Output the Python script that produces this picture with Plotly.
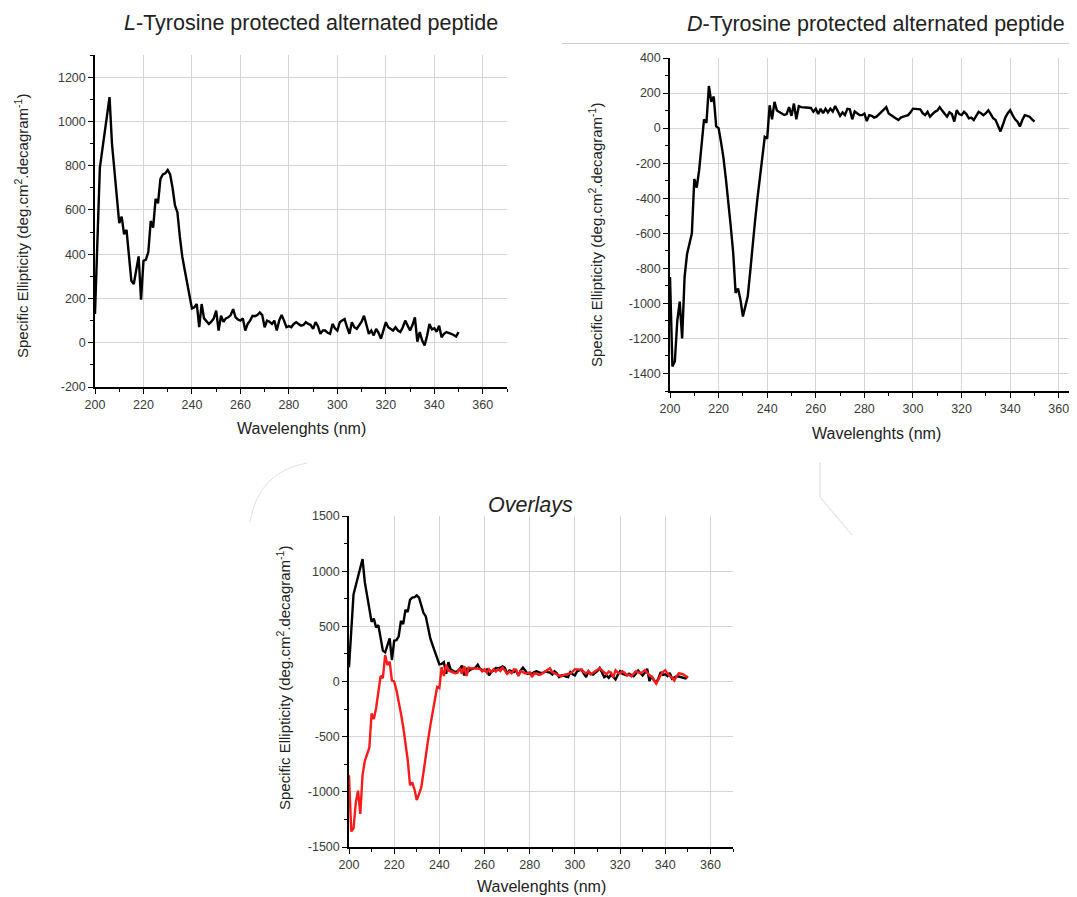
import plotly.graph_objects as go

# The page body keeps an 8px margin, so the figure is drawn 8px smaller and
# every reference pixel position is shifted by that offset.
PAGE_W, PAGE_H = 1077, 897
OFF = 8
W, H = PAGE_W - OFF, PAGE_H - OFF

wavelengths = list(range(200, 351))

l_tyrosine = [
    130, 500, 790, 870, 950, 1020, 1110, 900, 770, 650,
    540, 570, 490, 510, 400, 280, 265, 330, 390, 195,
    370, 375, 410, 550, 520, 650, 630, 740, 760, 765,
    780, 760, 700, 620, 590, 480, 390, 330, 270, 210,
    155, 160, 175, 70, 175, 110, 95, 85, 95, 110,
    145, 55, 122, 95, 110, 115, 125, 152, 115, 105,
    100, 110, 55, 85, 100, 122, 120, 125, 137, 125,
    70, 100, 95, 85, 100, 55, 100, 125, 100, 70,
    75, 70, 85, 93, 85, 77, 80, 93, 85, 80,
    63, 93, 75, 40, 55, 55, 45, 40, 85, 65,
    55, 93, 100, 107, 70, 40, 93, 70, 63, 77,
    95, 122, 80, 40, 55, 33, 63, 45, 18, 60,
    93, 70, 63, 55, 70, 55, 48, 70, 100, 75,
    55, 80, 115, 5, 48, 10, -12, 30, 85, 60,
    65, 50, 77, 25, 40, 48, 45, 40, 35, 28,
    48,
]

d_tyrosine = [
    -850, -1360, -1330, -1100, -990, -1200, -850, -720, -660, -600,
    -290, -340, -240, -90, 50, 30, 240, 150, 180, 10,
    0, -80, -170, -290, -410, -560, -710, -940, -915, -980,
    -1075, -1020, -960, -820, -650, -530, -400, -290, -180, -50,
    -60, 130, 50, 150, 100, 90, 85, 75, 80, 120,
    70, 140, 50, 125, 120, 120, 118, 116, 115, 93,
    110, 80, 110, 85, 110, 90, 111, 95, 126, 100,
    70, 90, 75, 110, 107, 50, 95, 85, 75, 74,
    83, 40, 74, 70, 60, 65, 80, 93, 110, 120,
    83, 75, 65, 55, 46, 60, 65, 70, 74, 90,
    111, 110, 110, 107, 85, 74, 93, 65, 80, 93,
    100, 120, 100, 80, 65, 90, 80, 37, 102, 80,
    74, 93, 80, 56, 60, 46, 70, 93, 85, 74,
    85, 102, 80, 56, 46, 10, -19, 19, 60, 85,
    102, 74, 50, 37, 9, 46, 74, 70, 65, 50,
    37,
]

x_ticks = [200, 220, 240, 260, 280, 300, 320, 340, 360]
y_ticks_l = [-200, 0, 200, 400, 600, 800, 1000, 1200]
y_ticks_d = [-1400, -1200, -1000, -800, -600, -400, -200, 0, 200, 400]
y_ticks_o = [-1500, -1000, -500, 0, 500, 1000, 1500]

FONT = "Arial, Liberation Sans, sans-serif"
TICKFONT = dict(family=FONT, size=12.5, color="#3a3a3a")
GRID = "#d4d4d4"


def px_x(p):
    return min(max((p - OFF) / W, 0.0), 1.0)


def px_y(p):
    return min(max(1 - (p - OFF) / H, 0.0), 1.0)


def axis(domain, rng, ticks, minor_dtick, anchor, tick0):
    return dict(
        domain=domain, range=rng, anchor=anchor, automargin=False,
        tickmode="array", tickvals=ticks, ticktext=[str(t) for t in ticks],
        showline=True, linecolor="black", linewidth=1.5, mirror=False,
        ticks="outside", ticklen=5, tickwidth=1.3, tickcolor="black",
        showgrid=True, gridcolor=GRID, gridwidth=1,
        zeroline=False, tickfont=TICKFONT,
        minor=dict(dtick=minor_dtick, tick0=tick0, ticks="outside", ticklen=3,
                   tickwidth=1.1, tickcolor="black", showgrid=False),
        fixedrange=True,
    )


fig = go.Figure()

LW = 2.4
fig.add_trace(go.Scatter(x=wavelengths, y=l_tyrosine, mode="lines",
                         line=dict(color="black", width=LW),
                         xaxis="x", yaxis="y", showlegend=False))
fig.add_trace(go.Scatter(x=wavelengths, y=d_tyrosine, mode="lines",
                         line=dict(color="black", width=LW),
                         xaxis="x2", yaxis="y2", showlegend=False))
fig.add_trace(go.Scatter(x=wavelengths, y=l_tyrosine, mode="lines",
                         line=dict(color="black", width=LW),
                         xaxis="x3", yaxis="y3", showlegend=False))
fig.add_trace(go.Scatter(x=wavelengths, y=d_tyrosine, mode="lines",
                         line=dict(color="#ff1a1a", width=LW),
                         xaxis="x3", yaxis="y3", showlegend=False))

# Chart 1 (top-left)
c1_x = [px_x(95), px_x(507)]
c1_y = [px_y(387), px_y(55)]
# Chart 2 (top-right)
c2_x = [px_x(670), 1.0]
c2_y = [px_y(391), px_y(58)]
# Chart 3 (bottom, overlays)
c3_x = [px_x(349), px_x(733)]
c3_y = [px_y(847), px_y(516)]

layout = dict(
    width=W, height=H, template="none",
    margin=dict(l=0, r=0, t=0, b=0, pad=0),
    paper_bgcolor="white", plot_bgcolor="white",
    xaxis=axis(c1_x, [200, 370], x_ticks, 10, "y", 200),
    yaxis=axis(c1_y, [-200, 1300], y_ticks_l, 100, "x", -200),
    xaxis2=axis(c2_x, [200, 367.5], x_ticks, 10, "y2", 200),
    yaxis2=axis(c2_y, [-1500, 400], y_ticks_d, 100, "x2", -1500),
    xaxis3=axis(c3_x, [200, 370], x_ticks, 10, "y3", 200),
    yaxis3=axis(c3_y, [-1500, 1500], y_ticks_o, 250, "x3", -1500),
)
fig.update_layout(**layout)

ytitle = "Specific Ellipticity (deg.cm<sup>2</sup>.decagram<sup>-1</sup>)"
xtitle = "Wavelenghts (nm)"
YTFONT = dict(family=FONT, size=15, color="#222")
XTFONT = dict(family=FONT, size=16, color="#222")
HEADFONT = dict(family=FONT, size=21.5, color="#222")

annotations = [
    # chart titles
    dict(x=px_x(311), y=px_y(23), text="<i>L</i>-Tyrosine protected alternated peptide",
         font=HEADFONT),
    dict(x=px_x(876), y=px_y(24), text="<i>D</i>-Tyrosine protected alternated peptide",
         font=HEADFONT),
    dict(x=px_x(530), y=px_y(505), text="<i>Overlays</i>", font=HEADFONT),
    # x titles
    dict(x=px_x(301), y=px_y(428), text=xtitle, font=XTFONT),
    dict(x=px_x(876), y=px_y(433), text=xtitle, font=XTFONT),
    dict(x=px_x(541), y=px_y(886), text=xtitle, font=XTFONT),
    # y titles
    dict(x=px_x(22), y=px_y(226), text=ytitle, font=YTFONT, textangle=-90),
    dict(x=px_x(595), y=px_y(235), text=ytitle, font=YTFONT, textangle=-90),
    dict(x=px_x(283), y=px_y(678), text=ytitle, font=YTFONT, textangle=-90),
]
for a in annotations:
    a.update(xref="paper", yref="paper", showarrow=False, xanchor="center", yanchor="middle")
fig.update_layout(annotations=annotations)

# decorative separators from the composed figure
shapes = [
    dict(type="line", xref="paper", yref="paper",
         x0=px_x(562), x1=1.0, y0=px_y(43.5), y1=px_y(43.5),
         line=dict(color="#cfcfcf", width=1)),
    dict(type="path", xref="paper", yref="paper",
         path=f"M {px_x(307)} {px_y(463)} Q {px_x(258)} {px_y(472)} {px_x(250)} {px_y(522)}",
         line=dict(color="#e0e0e0", width=1)),
    dict(type="path", xref="paper", yref="paper",
         path=f"M {px_x(820)} {px_y(462)} L {px_x(820)} {px_y(497)} L {px_x(852)} {px_y(535)}",
         line=dict(color="#d8d8d8", width=1)),
]
fig.update_layout(shapes=shapes)

fig.write_html("out.html")
